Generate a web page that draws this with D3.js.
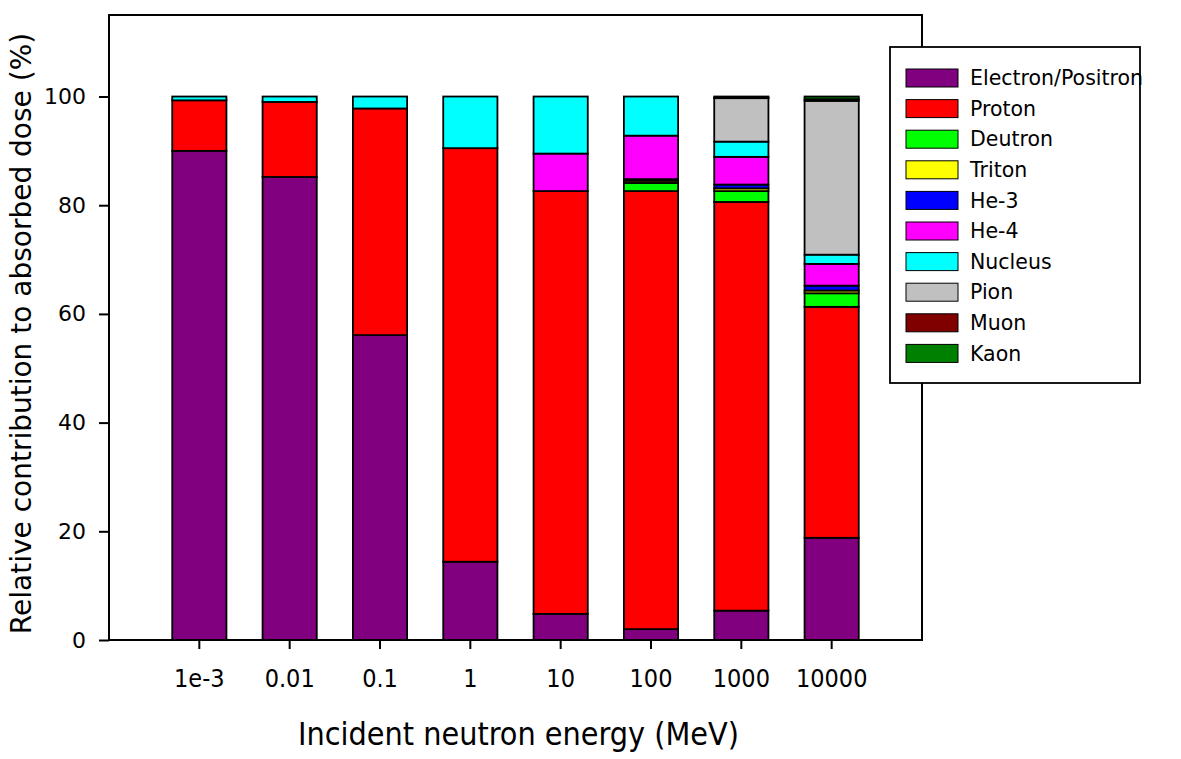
<!DOCTYPE html>
<html>
<head>
<meta charset="utf-8">
<script src="https://d3js.org/d3.v7.min.js"></script>
<style>
  body { margin: 0; background: #fff; }
  svg { display: block; }
  .tick text { fill: #000; }
</style>
</head>
<body>
<svg></svg>
<script>
const width = 1181,
      height = 759

const energies = ["1e-3", "0.01", "0.1", "1", "10", "100", "1000", "10000"]

const species = ["Electron/Positron", "Proton", "Deutron", "Triton", "He-3", "He-4", "Nucleus", "Pion", "Muon", "Kaon"]

const colors = ["#800080", "#ff0000", "#00ff00", "#ffff00", "#0000ff", "#ff00ff", "#00ffff", "#c0c0c0", "#800000", "#008000"]

// percent of absorbed dose, one value per energy
const electron = [90.0, 85.2, 56.1, 14.4,  4.8,  2.0,  5.4, 18.8]
const proton   = [ 9.3, 13.8, 41.7, 76.1, 77.8, 80.6, 75.2, 42.5]
const deutron  = [ 0,    0,    0,    0,    0,    1.5,  2.0,  2.5]
const triton   = [ 0,    0,    0,    0,    0,    0.4,  0.5,  0.5]
const he3      = [ 0,    0,    0,    0,    0,    0.3,  0.7,  0.9]
const he4      = [ 0,    0,    0,    0,    6.9,  8.0,  5.1,  4.0]
const nucleus  = [ 0.7,  1.0,  2.2,  9.5, 10.5,  7.2,  2.8,  1.7]
const pion     = [ 0,    0,    0,    0,    0,    0,    8.0, 28.3]
const muon     = [ 0,    0,    0,    0,    0,    0,    0.1,  0.3]
const kaon     = [ 0,    0,    0,    0,    0,    0,    0.2,  0.5]

const yTicks = [0, 20, 40, 60, 80, 100]

const series = [electron, proton, deutron, triton, he3, he4, nucleus, pion, muon, kaon]

const table = energies.map((e, i) => {
  const row = {energy: e}
  species.forEach((s, j) => row[s] = series[j][i])
  return row
})

const margin = {top: 15, right: 259, bottom: 119, left: 109}

const svg = d3.select("svg")
  .attr("width", width)
  .attr("height", height)

const x = d3.scaleBand()
  .domain(energies)
  .range([margin.left, width - margin.right])
  .paddingInner(0.4)
  .paddingOuter(0.7)

const y = d3.scaleLinear()
  .domain([0, 115])
  .range([height - margin.bottom, margin.top])

const color = d3.scaleOrdinal().domain(species).range(colors)

const stacked = d3.stack().keys(species)(table)

const layers = svg.selectAll("g.layer")
  .data(stacked)
  .enter().append("g").classed("layer", true)
    .style("fill", d => color(d.key))

layers.selectAll("rect")
  .data(d => d.filter(p => p[1] - p[0] > 0))
  .enter().append("rect")
    .attr("x", d => x(d.data.energy))
    .attr("y", d => y(d[1]))
    .attr("width", x.bandwidth())
    .attr("height", d => y(d[0]) - y(d[1]))
    .attr("stroke", "#000")
    .attr("stroke-width", 1.8)

// frame
svg.append("rect")
  .attr("x", margin.left)
  .attr("y", margin.top)
  .attr("width", width - margin.right - margin.left)
  .attr("height", height - margin.bottom - margin.top)
  .attr("fill", "none")
  .attr("stroke", "#000")
  .attr("stroke-width", 2)

const xAxis = svg.append("g")
  .attr("transform", `translate(0,${height - margin.bottom})`)
  .call(d3.axisBottom(x).tickSize(9).tickPadding(20))

xAxis.select(".domain").remove()
xAxis.selectAll(".tick line").attr("stroke-width", 2)
xAxis.selectAll("text")
  .style("font-family", "'DejaVu Sans Condensed', 'DejaVu Sans'")
  .style("font-stretch", "condensed")
  .style("font-size", "25px")

const yAxis = svg.append("g")
  .attr("transform", `translate(${margin.left},0)`)
  .call(d3.axisLeft(y).tickValues(yTicks).tickSize(10).tickPadding(13))

yAxis.select(".domain").remove()
yAxis.selectAll(".tick line").attr("stroke-width", 2)
yAxis.selectAll("text")
  .style("font-family", "'DejaVu Sans'")
  .style("font-size", "22px")

svg.append("text")
  .attr("x", (margin.left + width - margin.right) / 2 + 3)
  .attr("y", 745)
  .attr("text-anchor", "middle")
  .style("font-family", "'DejaVu Sans Condensed', 'DejaVu Sans'")
  .style("font-stretch", "condensed")
  .style("font-size", "32px")
  .text("Incident neutron energy (MeV)")

svg.append("text")
  .attr("transform", `translate(31,${(margin.top + height - margin.bottom) / 2 + 6}) rotate(-90)`)
  .attr("text-anchor", "middle")
  .style("font-family", "'DejaVu Sans'")
  .style("font-size", "28px")
  .text("Relative contribution to absorbed dose (%)")

// legend
const legend = svg.append("g")
  .attr("transform", "translate(890,47)")

legend.append("rect")
  .attr("width", 250)
  .attr("height", 336)
  .attr("fill", "#fff")
  .attr("stroke", "#000")
  .attr("stroke-width", 1.8)

const items = legend.selectAll("g.item")
  .data(species)
  .enter().append("g").classed("item", true)
    .attr("transform", (d, i) => `translate(0,${31 + i * 30.6})`)

items.append("rect")
  .attr("x", 16)
  .attr("y", -9)
  .attr("width", 52)
  .attr("height", 18)
  .attr("fill", d => color(d))
  .attr("stroke", "#000")
  .attr("stroke-width", 1)

items.append("text")
  .attr("x", 80)
  .attr("dy", "0.35em")
  .style("font-family", "'DejaVu Sans'")
  .style("font-size", "20.5px")
  .text(d => d)
</script>
</body>
</html>
